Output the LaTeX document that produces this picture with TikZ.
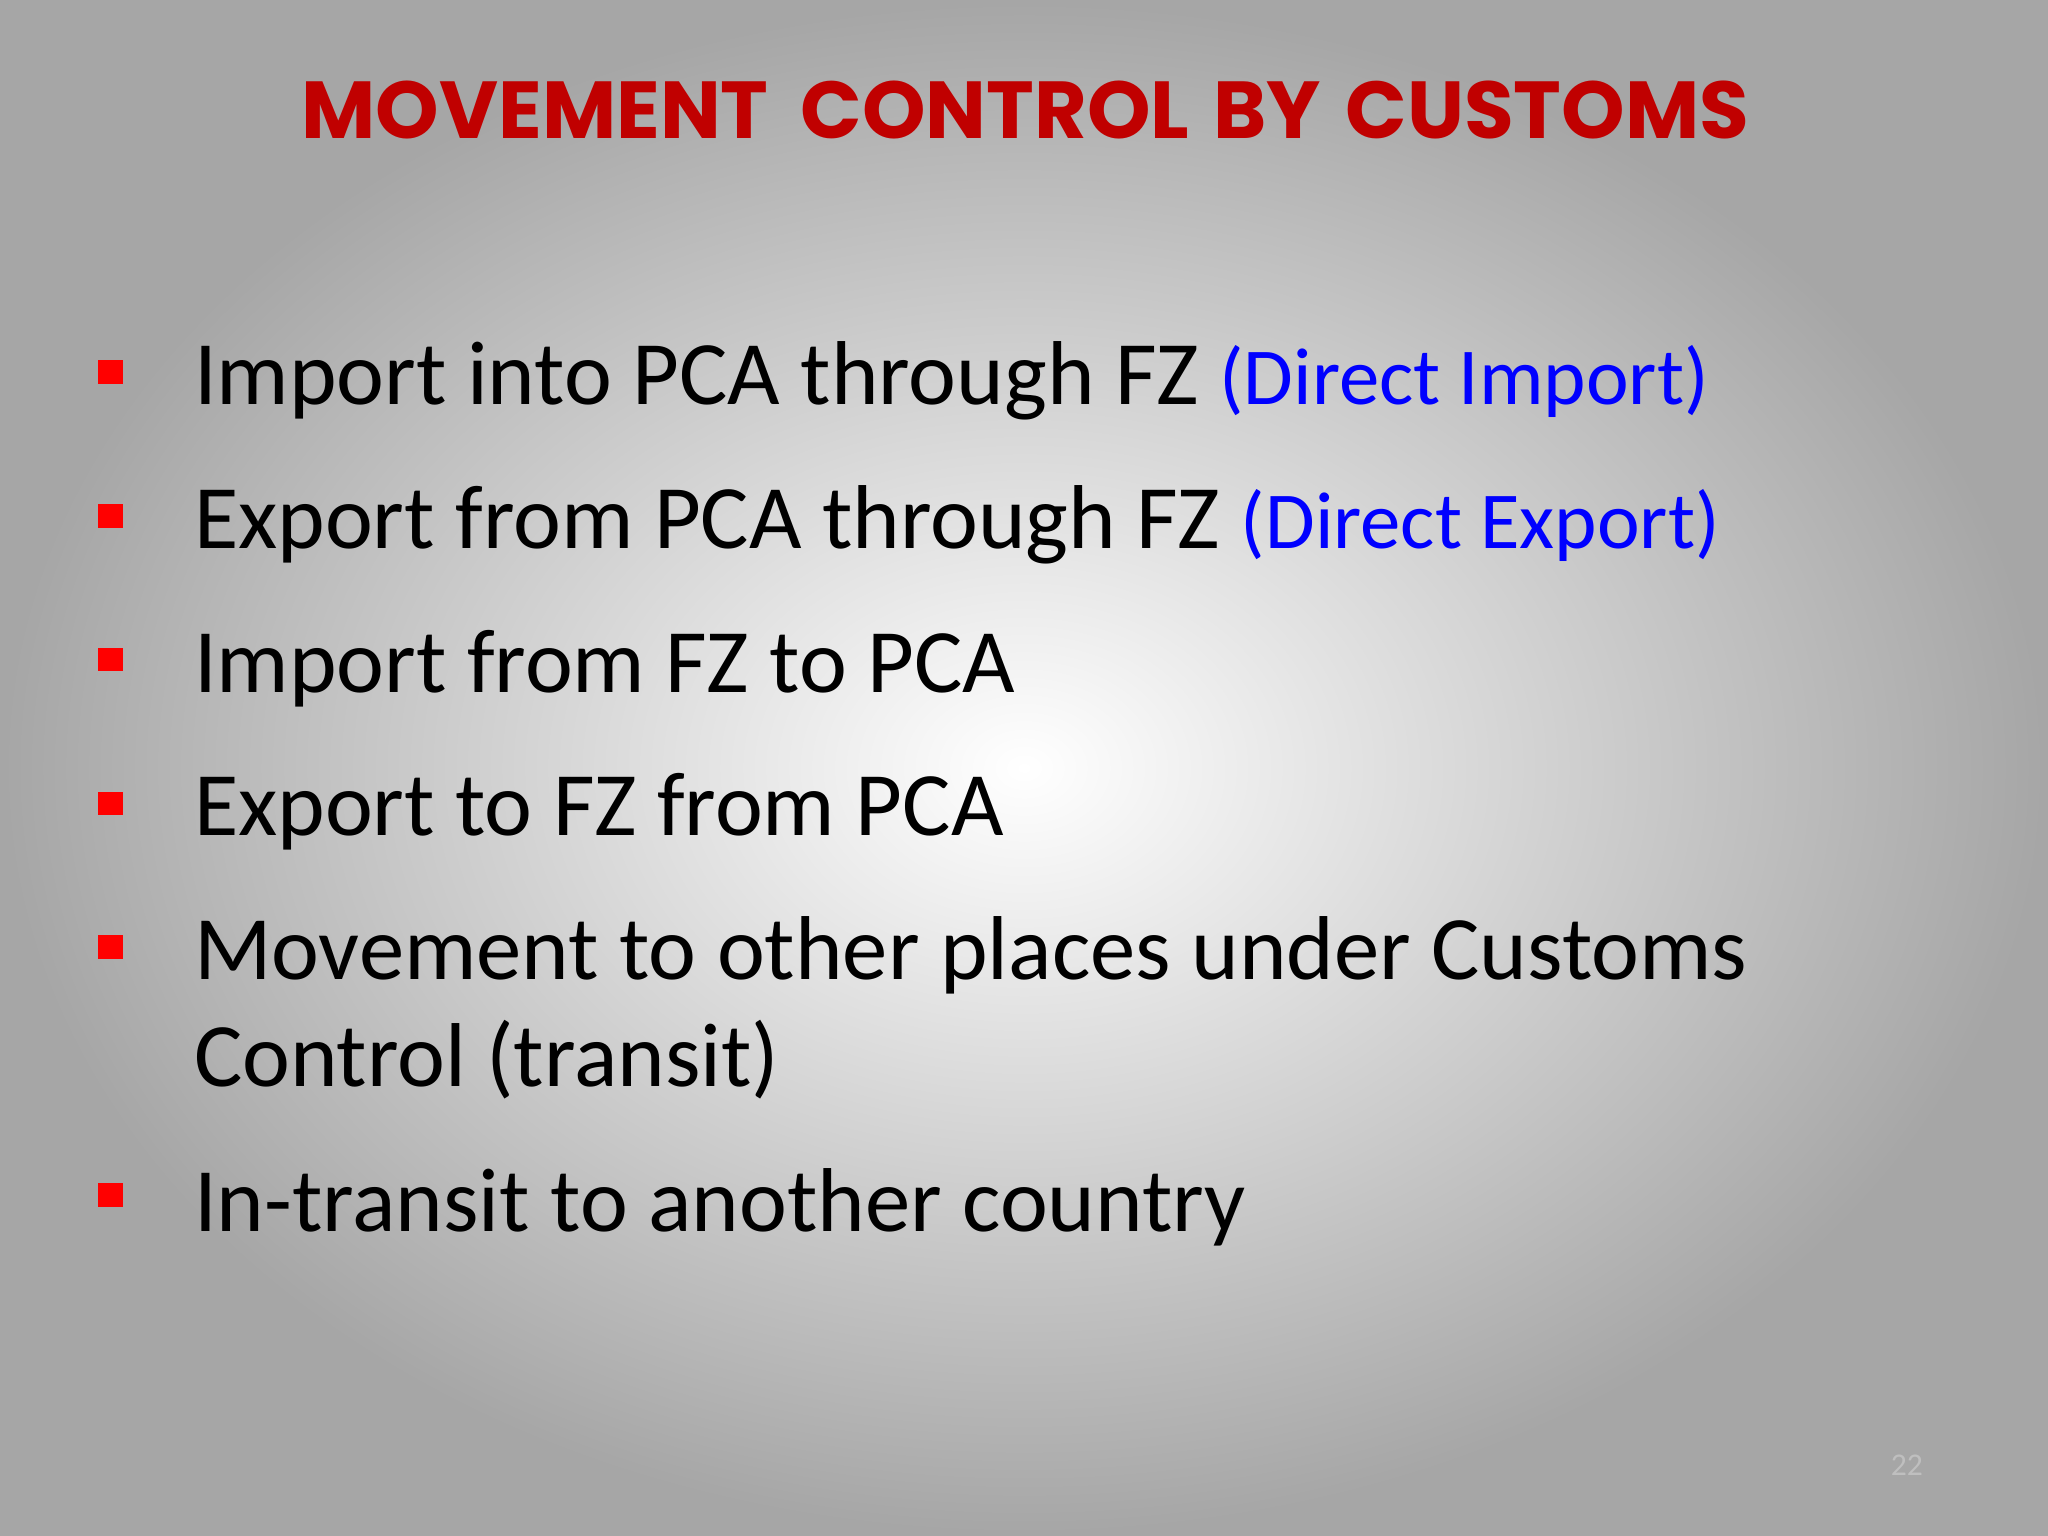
\documentclass[tikz,border=0pt]{standalone}
\usepackage{fontspec}
\setmainfont{Carlito}
\newfontfamily\titlefont{Poppins}
\begin{document}
\begin{tikzpicture}[x=0.013061cm,y=-0.013061cm,
  txt/.style={anchor=base west,inner sep=0pt,font=\fontsize{25.8}{30}\selectfont,text=black}]
\useasboundingbox (0,0) rectangle (1568,1176);
\shade[inner color=white,outer color=black!35] (0,0) rectangle (1568,1176);
\node[anchor=base,inner sep=0pt,text={rgb,255:red,192;green,0;blue,0},font=\titlefont\bfseries\fontsize{23}{28}\selectfont] (title) at (785,106) {MOVEMENT\hspace{0.4em}CONTROL\hspace{0.3em}BY\hspace{0.3em}CUSTOMS};
\foreach \y in {285,395,505,615,725,915}
  \fill[red] (75,\y-9) rectangle (94,\y+9);
\node[txt] (t1) at (148,310) {Import into PCA through FZ \textcolor{blue}{\fontsize{23}{28}\selectfont(Direct Import)}};
\node[txt] (t2) at (148,420) {Export from PCA through FZ \textcolor{blue}{\fontsize{23}{28}\selectfont(Direct Export)}};
\node[txt] (t3) at (148,530) {Import from FZ to PCA};
\node[txt] (t4) at (148,640) {Export to FZ from PCA};
\node[txt] (t5) at (148,750) {Movement to other places under Customs};
\node[txt] (t6) at (148,832) {Control (transit)};
\node[txt] (t7) at (148,943) {In-transit to another country};
\node[anchor=base,inner sep=0pt,text=black!25,font=\fontsize{9}{10}\selectfont] (pg) at (1460,1130) {22};
\end{tikzpicture}
\end{document}
